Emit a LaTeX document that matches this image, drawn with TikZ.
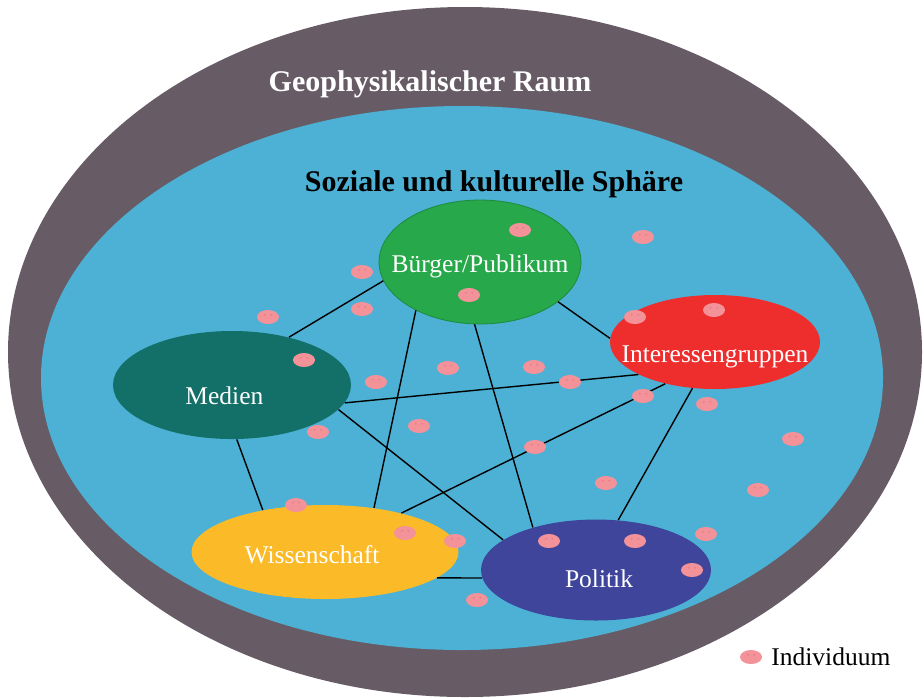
\documentclass[tikz,border=0pt]{standalone}
\usepackage{fontspec}
\setmainfont{Liberation Serif}
\usepackage{tikz}
\usetikzlibrary{shapes.geometric}
\usetikzlibrary{positioning}

\definecolor{geogray}{HTML}{675C66}
\definecolor{sozblue}{HTML}{4CB1D4}
\definecolor{gruen}{HTML}{27A84A}
\definecolor{gruenrand}{HTML}{1E8A3D}
\definecolor{rot}{HTML}{EE2D2D}
\definecolor{petrol}{HTML}{127069}
\definecolor{gelb}{HTML}{FBBA27}
\definecolor{marine}{HTML}{3E459B}
\definecolor{rosa}{HTML}{F4929A}
\definecolor{rosaauge}{HTML}{D9767F}

\tikzset{
    gruppe/.style={ellipse, inner sep=0pt, draw=none},
    gruppentext/.style={text=white, inner sep=0pt, font=\fontsize{12.75}{15}\selectfont},
    titel/.style={inner sep=0pt, anchor=base, font=\fontsize{15}{18}\selectfont\bfseries},
    verbindung/.style={black, line width=0.7pt},
    individuum/.style={ellipse, fill=rosa, minimum width=11pt, minimum height=7pt, inner sep=0pt,
        path picture={
            \fill[rosaauge] ([xshift=-1.6pt, yshift=1.1pt]path picture bounding box.center) circle (0.4pt);
            \fill[rosaauge] ([xshift=1.6pt, yshift=1.1pt]path picture bounding box.center) circle (0.4pt);
        }}
}

\begin{document}
\begin{tikzpicture}[x=0.5pt, y=-0.5pt]
    \useasboundingbox (0,0) rectangle (924,697);

    % Raum und Sphaere
    \fill[geogray] (465,352) ellipse [x radius=457, y radius=345];
    \fill[sozblue] (462,378) ellipse [x radius=421, y radius=272];
    \node[titel, text=white] (raum) at (430,91) {Geophysikalischer Raum};
    \node[titel, text=black] (sphaere) at (494,191) {Soziale und kulturelle Sphäre};

    % Gruppen
    \node[gruppe, fill=gruen, draw=gruenrand, minimum width=101pt, minimum height=62pt,
        label={[gruppentext, yshift=-2pt]center:Bürger/Publikum}] (buerger) at (480,262) {};
    \node[gruppe, fill=rot, minimum width=105pt, minimum height=47pt,
        label={[gruppentext, yshift=-7.2pt]center:Interessengruppen}] (interessen) at (715,342) {};
    \node[gruppe, fill=petrol, minimum width=119pt, minimum height=54pt,
        label={[gruppentext, xshift=-3.8pt, yshift=-5.5pt]center:Medien}] (medien) at (232,385) {};
    \node[gruppe, fill=gelb, minimum width=133.5pt, minimum height=47pt,
        label={[gruppentext, xshift=-6.5pt, yshift=-1.5pt]center:Wissenschaft}] (wissen) at (325,552) {};
    \node[gruppe, fill=marine, minimum width=115pt, minimum height=50.5pt,
        label={[gruppentext, xshift=1.5pt, yshift=-4.2pt]center:Politik}] (politik) at (596,570) {};

    % Beziehungen
    \draw[verbindung] (medien.40.5) -- (buerger.191);
    \draw[verbindung] (medien.-9.5) -- (interessen.203.1);
    \draw[verbindung] (medien.-13.9) -- (politik.162.9);
    \draw[verbindung] (medien.-85.8) -- (wissen.146.3);
    \draw[verbindung] (buerger.217.4) -- (wissen.42.5);
    \draw[verbindung] (buerger.265.4) -- (politik.146.5);
    \draw[verbindung] (buerger.-27.1) -- (interessen.178.4);
    \draw[verbindung] (interessen.220.4) -- (wissen.27.8);
    \draw[verbindung] (interessen.244.4) -- (politik.66.8);
    \draw[verbindung] (wissen.-13) -- (politik.184);

    % Individuen
    \foreach \px/\py [count=\i] in {520/230, 643/237, 362/272, 469/295, 362/309, 268/317,
        635/317, 714/310, 304/360, 376/382, 448/368, 534/367, 570/382, 643/396, 707/404,
        419/426, 318/432, 535/447, 793/439, 606/483, 758/490, 296/505, 405/533, 455/541,
        549/541, 635/541, 706/534, 692/570, 477/600}
        \node[individuum] (ind\i) at (\px,\py) {};

    % Legende
    \node[individuum] (legpunkt) at (751,657) {};
    \node[inner sep=0pt, anchor=base west, font=\fontsize{12.75}{15}\selectfont] (legtext) at (771,665) {Individuum};
\end{tikzpicture}
\end{document}
